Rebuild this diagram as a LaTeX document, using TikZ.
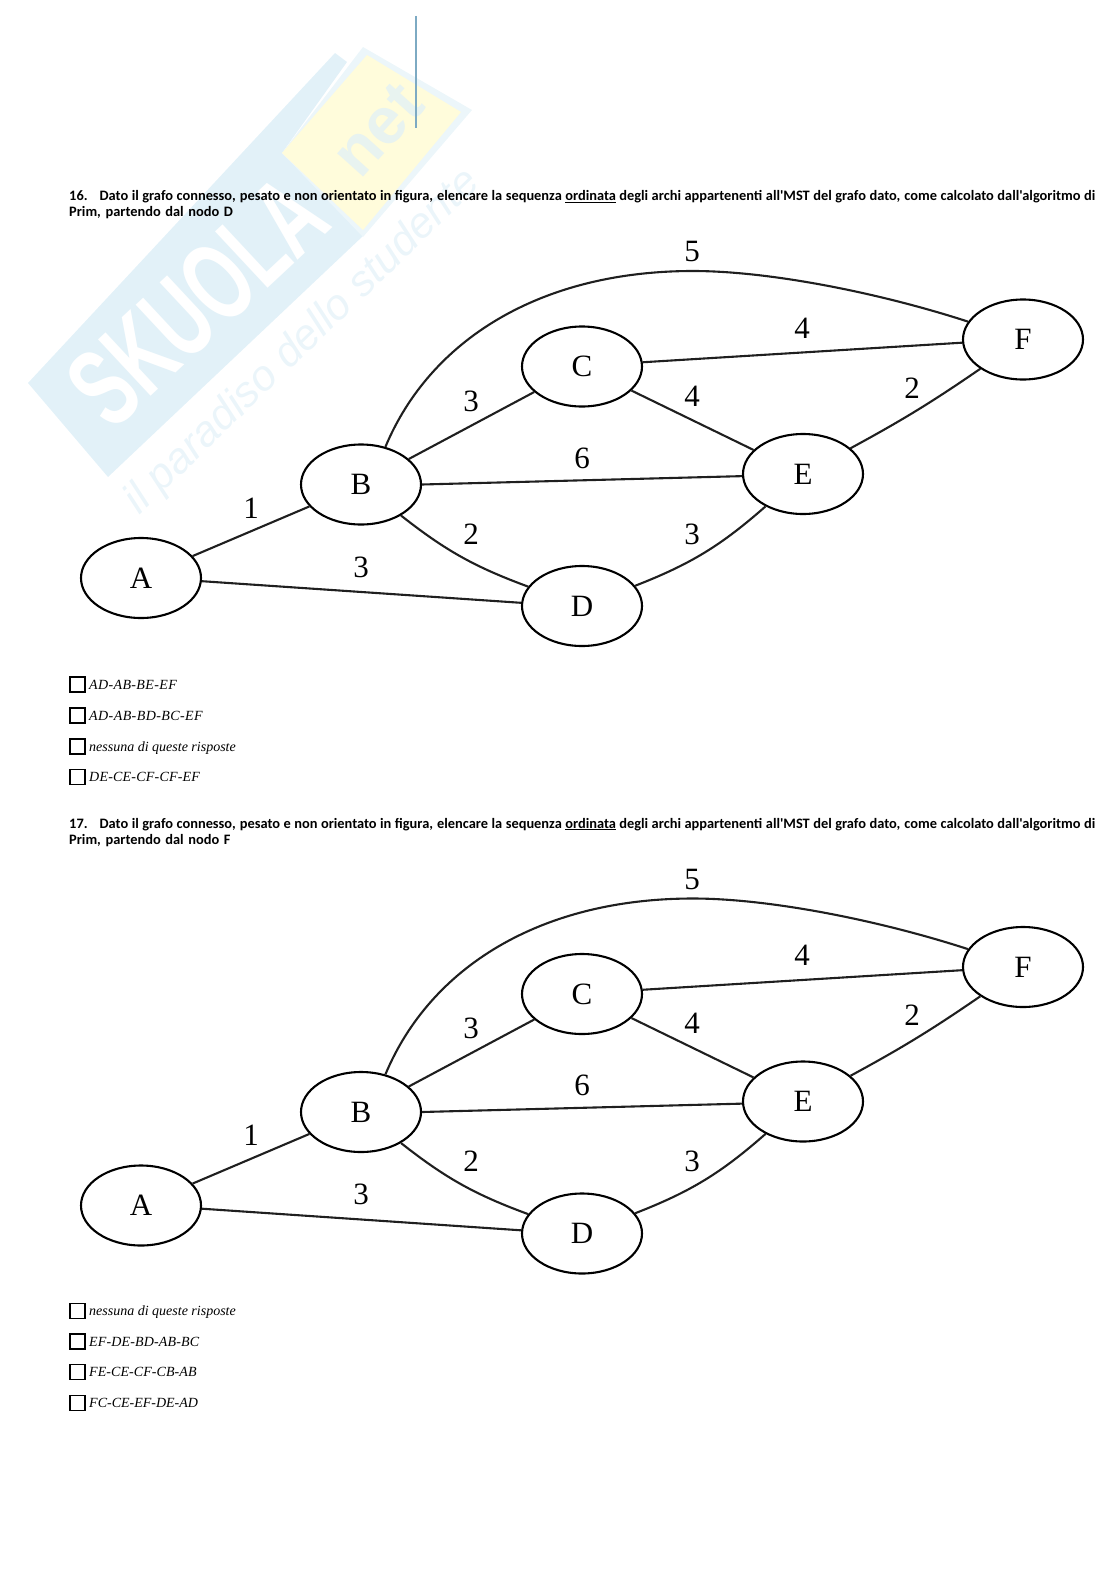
\documentclass[tikz,border=0pt]{standalone}
\usepackage{fontspec}
\setmainfont{Liberation Serif}
\newfontfamily\qfont{Carlito}
\newfontfamily\wmfont{Liberation Sans}
\usetikzlibrary{shapes.geometric}
\definecolor{wmblue}{RGB}{226,241,248}
\definecolor{wmyellow}{RGB}{255,252,219}
\definecolor{wmpale}{RGB}{236,246,250}
\definecolor{wmtext}{RGB}{235,245,250}
\definecolor{wmnet}{RGB}{232,243,240}
\definecolor{rulecol}{RGB}{125,170,195}
\tikzset{
  vertex/.style={draw,ellipse,line width=2.1pt,minimum width=120pt,minimum height=80pt,inner sep=0pt,font=\fontsize{31}{31}\selectfont},
  edge/.style={line width=2.1pt,draw=black!88},
  weight/.style={font=\fontsize{31}{31}\selectfont,inner sep=0pt},
  qtext/.style={anchor=base west,inner sep=0pt,font=\qfont\bfseries\fontsize{14.4}{16}\selectfont},
  opt/.style={anchor=base west,inner sep=0pt,font=\itshape\fontsize{14}{16}\selectfont},
  tick/.style={draw,line width=1.7pt,minimum size=15pt,inner sep=0pt}
}
\newcommand{\grafo}[2]{%
\begin{scope}[yshift=-#2pt]
  \node[vertex] (#1A) at (141,578) {A};
  \node[vertex] (#1B) at (361,484.5) {B};
  \node[vertex] (#1C) at (582,366.5) {C};
  \node[vertex] (#1D) at (582,606) {D};
  \node[vertex] (#1E) at (803,474) {E};
  \node[vertex] (#1F) at (1023,339.5) {F};
  \draw[edge] (#1A) -- (#1B);
  \draw[edge] (#1A.-3) -- (#1D.177);
  \draw[edge] (#1B) -- (#1C);
  \draw[edge] (#1B.east) -- (#1E.182);
  \draw[edge] (#1C) -- (#1E);
  \draw[edge] (#1C.4) -- (#1F.183);
  \draw[edge] (#1E) to[bend right=3] (#1F);
  \draw[edge] (#1B) to[bend right=9] (#1D);
  \draw[edge] (#1D) to[bend right=10] (#1E);
  \draw[edge] (#1B.57) .. controls (430,340) and (540,271) .. (693,271) .. controls (770,271) and (880,293) .. (#1F);
  \node[weight] (#1w1) at (251,508) {1};
  \node[weight] (#1w2) at (361,567) {3};
  \node[weight] (#1w3) at (471,401) {3};
  \node[weight] (#1w4) at (582,458) {6};
  \node[weight] (#1w5) at (471,534) {2};
  \node[weight] (#1w6) at (692,252) {5};
  \node[weight] (#1w7) at (802,328) {4};
  \node[weight] (#1w8) at (692,396) {4};
  \node[weight] (#1w9) at (692,534) {3};
  \node[weight] (#1w10) at (912,388) {2};
\end{scope}}
\newcommand{\domanda}[5]{%
  \node[qtext] (#1a) at (69,#2) {\hbox to 1026pt{\spaceskip=.08em plus 1fil\relax #3.\hspace{12pt}Dato il grafo connesso, pesato e non orientato in figura, elencare la sequenza \underline{ordinata} degli archi appartenenti all'MST del grafo dato, come calcolato dall'algoritmo di}};
  \node[qtext] (#1b) at (69,#4) {\spaceskip=.32em Prim, partendo dal nodo #5};}
\newcommand{\opzione}[4]{%
  \node[tick] (#1box) at (77.5,#2) {};
  \node[opt] (#1txt) at (89,#2+4.5) {\addfontfeature{LetterSpace=#4}#3};}
\begin{document}
\begin{tikzpicture}[x=1pt,y=-1pt]
\useasboundingbox (0,0) rectangle (1116,1579);
% watermark
\fill[wmblue] (28,383) -- (335,53) -- (347,62) -- (282,153) -- (363,236) -- (108,477) -- cycle;
\fill[wmpale] (363,47) -- (472,110) -- (363,237) -- (282,153) -- cycle;
\fill[wmyellow] (367,55) -- (461,112) -- (363,230) -- (282,153) -- cycle;
\node[rotate=43,text=white,font=\wmfont\bfseries\fontsize{112}{112}\selectfont,inner sep=0pt] (wm1) at (197,301) {\scalebox{.64}[1]{SKUOLA}};
\node[rotate=48,text=wmnet,font=\wmfont\bfseries\fontsize{66}{66}\selectfont,inner sep=0pt] (wm2) at (378,130) {net};
\node[rotate=44,text=wmtext,font=\wmfont\itshape\fontsize{43}{43}\selectfont,inner sep=0pt] (wm3) at (303,342) {il paradiso dello studente};
% top rule
\coordinate (r1) at (416,16);
\coordinate (r2) at (416,128);
\draw[rulecol,line width=1.3pt] (r1) -- (r2);
\domanda{q}{200.5}{16}{216.5}{D}
\grafo{g}{0}
\opzione{a}{684.5}{AD-AB-BE-EF}{2.6}
\opzione{b}{715.5}{AD-AB-BD-BC-EF}{3}
\opzione{c}{746.5}{nessuna di queste risposte}{0}
\opzione{d}{777}{DE-CE-CF-CF-EF}{1.5}
\domanda{r}{828}{17}{844}{F}
\grafo{h}{627.5}
\opzione{e}{1311}{nessuna di queste risposte}{0}
\opzione{f}{1341.5}{EF-DE-BD-AB-BC}{1}
\opzione{g}{1372}{FE-CE-CF-CB-AB}{0.5}
\opzione{k}{1403}{FC-CE-EF-DE-AD}{0}
\end{tikzpicture}
\end{document}
